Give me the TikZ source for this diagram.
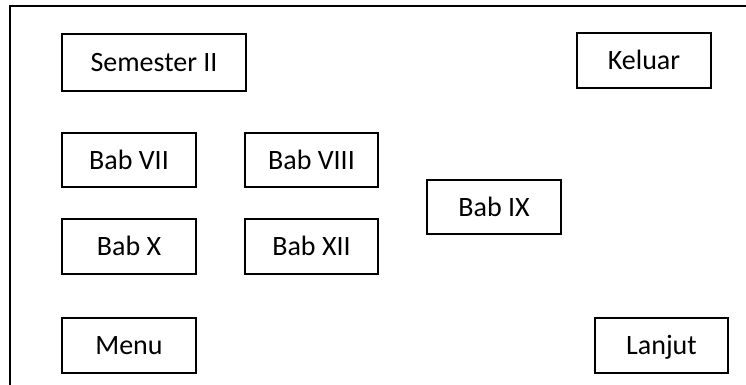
\documentclass[tikz,border=0pt]{standalone}
\usepackage{fontspec}
\setmainfont{Carlito}
\begin{document}
\begin{tikzpicture}[x=1pt,y=-1pt,
  btn/.style={draw=black,line width=1.6pt,fill=white,font=\fontsize{28}{30}\selectfont,inner sep=0pt,text height=18pt,text depth=0pt}]
\useasboundingbox (0,0) rectangle (746,385);
\coordinate (fb) at (10,385);
\coordinate (fc) at (10,6);
\coordinate (fr) at (746,6);
\draw[line width=1.6pt] (fb) -- (fc) -- (fr);
\newcommand{\mybtn}[6]{\node[btn,minimum width=#4-#2,minimum height=#5-#3] (#1) at ({(#2+#4)/2},{(#3+#5)/2+1}) {#6};}
\mybtn{sem}{62}{33}{246}{90}{Semester II}
\mybtn{kel}{577}{32}{711}{87}{Keluar}
\mybtn{b7}{62}{132}{196}{186}{Bab VII}
\mybtn{b8}{245}{132}{378}{186}{Bab VIII}
\mybtn{b9}{427}{179}{561}{233}{Bab IX}
\mybtn{b10}{62}{218}{196}{273}{Bab X}
\mybtn{b12}{245}{218}{378}{273}{Bab XII}
\mybtn{menu}{62}{317}{196}{372}{Menu}
\mybtn{lan}{595}{317}{728}{372}{Lanjut}
\end{tikzpicture}
\end{document}
